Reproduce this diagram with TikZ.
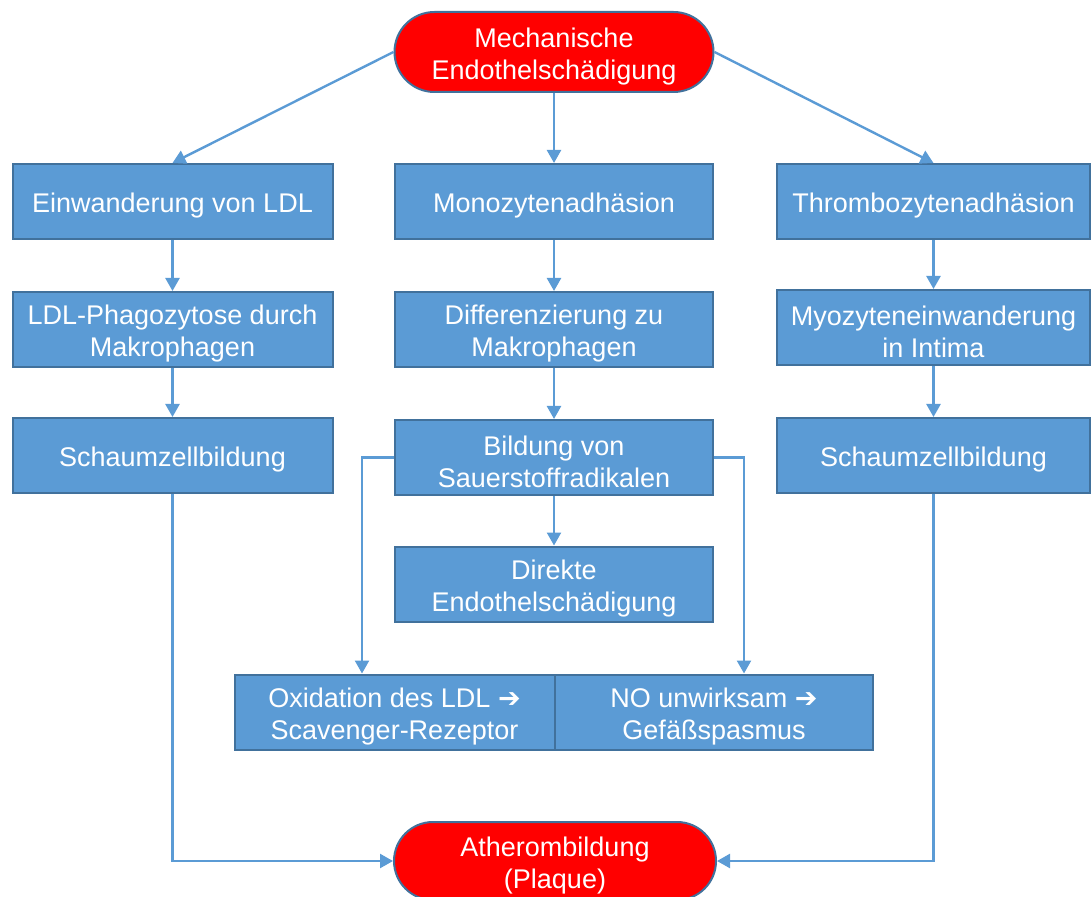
\documentclass[tikz,border=0pt]{standalone}
\usepackage{fontspec}
\setmainfont{Liberation Sans}
\newfontfamily\symfont{DejaVu Sans}
\usetikzlibrary{arrows.meta}
\definecolor{boxblue}{RGB}{91,155,213}
\definecolor{boxedge}{RGB}{65,113,156}
\definecolor{termred}{RGB}{255,0,0}
\newcommand{\thn}{{\symfont\bfseries\char"2794}}

\begin{document}
\begin{tikzpicture}[x=0.5pt,y=-0.5pt, >={Triangle[length=6.5pt,width=7pt]},
  box/.style={draw=boxedge, fill=boxblue, line width=1pt, text=white, align=center,
    inner sep=0pt, minimum width=160pt, minimum height=37.5pt,
    font=\fontsize{13.5}{16}\selectfont, execute at begin node={\rule{0pt}{14pt}}},
  twoline/.style={execute at begin node={\rule{0pt}{30pt}}},
  term/.style={box, twoline, fill=termred, rounded corners=20pt, minimum height=40pt},
  link/.style={->, boxblue, line width=1.2pt}]
\useasboundingbox (0,0) rectangle (1091,897);

\node[term, minimum width=159.5pt] (mech) at (554,52) {Mechanische\\Endothelschädigung};

% linke Spalte
\node[box] (ldl) at (172.5,201.5) {Einwanderung von LDL};
\node[box, twoline] (phago) at (172.5,329.5) {LDL-Phagozytose durch\\Makrophagen};
\node[box] (schaumA) at (172.5,455.5) {Schaumzellbildung};

% mittlere Spalte
\node[box, minimum width=159pt] (mono) at (554,201.5) {Monozytenadhäsion};
\node[box, twoline, minimum width=159pt] (diff) at (554,329.5) {Differenzierung zu\\Makrophagen};
\node[box, twoline, minimum width=159pt] (radikal) at (554,457.5) {Bildung von\\Sauerstoffradikalen};
\node[box, twoline, minimum width=159pt] (direkt) at (554,584) {Direkte\\Endothelschädigung};
\node[box, twoline] (oxi) at (394.5,712) {Oxidation des LDL \thn\\Scavenger-Rezeptor};
\node[box, twoline, minimum width=159pt] (nospas) at (714,712) {NO unwirksam \thn\\Gefäßspasmus};

% rechte Spalte
\node[box, minimum width=156.5pt] (thrombo) at (933.5,201.5) {Thrombozytenadhäsion};
\node[box, twoline, minimum width=156.5pt] (myo) at (933.5,327.5) {Myozyteneinwanderung\\in Intima};
\node[box, minimum width=156.5pt] (schaumB) at (933.5,455.5) {Schaumzellbildung};

\node[term, minimum width=161pt, minimum height=39pt, rounded corners=19.5pt] (athero) at (555,861) {Atherombildung\\(Plaque)};

\draw[link] (mech.west) -- (ldl.north);
\draw[link] (mech) -- (mono);
\draw[link] (mech.east) -- (thrombo.north);

\draw[link] (ldl) -- (phago);
\draw[link] (phago) -- (schaumA);
\draw[link] (mono) -- (diff);
\draw[link] (diff) -- (radikal);
\draw[link] (radikal) -- (direkt);
\draw[link] (thrombo) -- (myo);
\draw[link] (myo) -- (schaumB);

\draw[link] (radikal.west) -| ([xshift=-16.25pt]oxi.north);
\draw[link] (radikal.east) -| ([xshift=15pt]nospas.north);

\draw[link] (schaumA.south) |- (athero.west);
\draw[link] (schaumB.south) |- (athero.east);
\end{tikzpicture}
\end{document}
